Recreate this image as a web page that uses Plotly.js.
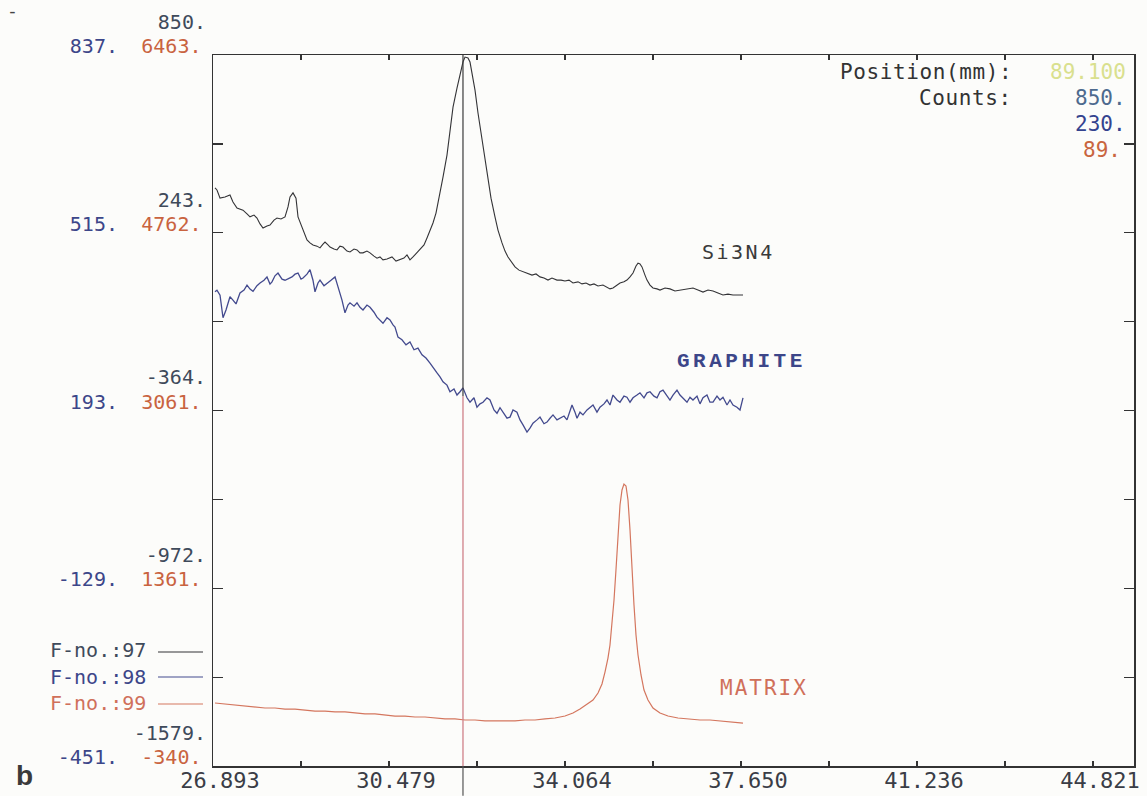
<!DOCTYPE html>
<html>
<head>
<meta charset="utf-8">
<script src="https://cdn.plot.ly/plotly-3.0.1.min.js"></script>
<style>
  html, body { margin: 0; padding: 0; background: #fcfcfa; }
  #chart { width: 1147px; height: 796px; }
</style>
</head>
<body>
<div id="chart"></div>
<script>
// ---------- data ----------
// Si3N4 (F-no. 97), counts
const xSi = [26.934, 26.974, 27.036, 27.137, 27.239, 27.300, 27.382, 27.504, 27.586, 27.647,
  27.728, 27.789, 27.851, 27.912, 27.993, 28.054, 28.136, 28.197, 28.278, 28.360,
  28.421, 28.462, 28.523, 28.584, 28.625, 28.706, 28.767, 28.808, 28.869, 28.930,
  29.012, 29.073, 29.134, 29.175, 29.236, 29.277, 29.358, 29.419, 29.480, 29.541,
  29.623, 29.684, 29.766, 29.827, 29.888, 29.949, 30.030, 30.092, 30.173, 30.234,
  30.295, 30.356, 30.438, 30.540, 30.621, 30.703, 30.784, 30.845, 30.906, 30.968,
  31.049, 31.110, 31.192, 31.253, 31.314, 31.375, 31.436, 31.477, 31.518, 31.579,
  31.660, 31.721, 31.783, 31.864, 31.925, 31.986, 32.027, 32.088, 32.129, 32.190,
  32.231, 32.292, 32.373, 32.434, 32.496, 32.557, 32.638, 32.699, 32.781, 32.842,
  32.903, 32.985, 33.046, 33.127, 33.209, 33.290, 33.392, 33.474, 33.555, 33.636,
  33.718, 33.799, 33.901, 33.983, 34.064, 34.146, 34.227, 34.329, 34.411, 34.492,
  34.574, 34.655, 34.737, 34.838, 34.920, 34.981, 35.042, 35.124, 35.185, 35.266,
  35.327, 35.389, 35.450, 35.511, 35.552, 35.592, 35.633, 35.694, 35.735, 35.796,
  35.857, 35.939, 36.000, 36.102, 36.203, 36.305, 36.407, 36.529, 36.672, 36.774,
  36.876, 36.978, 37.080, 37.181, 37.283, 37.385, 37.487, 37.589, 37.691];
const ySi = [396, 389, 361, 365, 372, 348, 327, 320, 307, 297,
  303, 293, 273, 259, 266, 269, 286, 293, 290, 297,
  331, 365, 379, 361, 297, 262, 235, 218, 208, 201,
  197, 191, 204, 211, 201, 194, 187, 184, 197, 194,
  180, 177, 187, 184, 174, 174, 180, 174, 163, 156,
  160, 150, 153, 160, 146, 150, 156, 167, 150, 160,
  174, 184, 201, 225, 249, 276, 310, 344, 372, 433,
  508, 594, 672, 737, 788, 826, 843, 840, 826, 771,
  730, 652, 560, 484, 423, 361, 297, 252, 208, 180,
  160, 139, 126, 115, 109, 105, 98, 102, 92, 88,
  81, 88, 81, 81, 78, 81, 71, 75, 68, 71,
  64, 68, 61, 64, 57, 51, 54, 64, 71, 75,
  81, 92, 105, 129, 139, 136, 126, 98, 81, 64,
  54, 51, 47, 54, 51, 44, 47, 51, 54, 47,
  40, 47, 44, 37, 30, 33, 30, 30, 30];

// GRAPHITE (F-no. 98), counts
const xGr = [26.934, 26.974, 27.036, 27.097, 27.158, 27.239, 27.300, 27.362, 27.443, 27.525,
  27.586, 27.647, 27.708, 27.789, 27.851, 27.932, 27.993, 28.054, 28.095, 28.156,
  28.217, 28.299, 28.360, 28.441, 28.502, 28.564, 28.625, 28.686, 28.727, 28.808,
  28.869, 28.930, 28.971, 29.032, 29.073, 29.154, 29.216, 29.297, 29.379, 29.440,
  29.521, 29.582, 29.643, 29.684, 29.766, 29.827, 29.888, 29.949, 30.030, 30.092,
  30.173, 30.234, 30.295, 30.356, 30.438, 30.499, 30.560, 30.601, 30.662, 30.743,
  30.825, 30.906, 30.988, 31.069, 31.151, 31.232, 31.314, 31.395, 31.457, 31.518,
  31.579, 31.660, 31.721, 31.803, 31.864, 31.925, 31.986, 32.068, 32.129, 32.210,
  32.271, 32.333, 32.394, 32.475, 32.536, 32.618, 32.679, 32.740, 32.801, 32.883,
  32.944, 33.005, 33.086, 33.148, 33.209, 33.290, 33.351, 33.412, 33.494, 33.555,
  33.636, 33.698, 33.759, 33.820, 33.901, 33.962, 34.044, 34.105, 34.166, 34.207,
  34.268, 34.309, 34.370, 34.431, 34.513, 34.574, 34.635, 34.716, 34.777, 34.859,
  34.920, 34.981, 35.042, 35.124, 35.185, 35.266, 35.327, 35.389, 35.450, 35.531,
  35.592, 35.674, 35.735, 35.796, 35.877, 35.939, 36.000, 36.061, 36.142, 36.203,
  36.265, 36.346, 36.407, 36.468, 36.550, 36.611, 36.672, 36.754, 36.815, 36.876,
  36.957, 37.018, 37.080, 37.161, 37.222, 37.283, 37.365, 37.426, 37.487, 37.568,
  37.630, 37.691];
const yGr = [408, 411, 402, 361, 375, 399, 393, 386, 406, 411,
  420, 413, 409, 419, 424, 429, 435, 422, 426, 437,
  442, 431, 429, 433, 435, 440, 442, 431, 433, 440,
  448, 429, 408, 424, 429, 419, 424, 429, 435, 417,
  393, 370, 384, 388, 382, 388, 380, 375, 384, 380,
  371, 362, 357, 351, 361, 357, 348, 344, 326, 321,
  312, 317, 303, 306, 294, 288, 279, 270, 261, 254,
  245, 239, 227, 232, 221, 227, 234, 216, 208, 216,
  199, 205, 208, 216, 212, 194, 188, 198, 190, 179,
  181, 194, 190, 176, 167, 154, 161, 170, 176, 181,
  169, 172, 179, 185, 176, 179, 183, 176, 194, 203,
  190, 179, 190, 185, 194, 198, 203, 190, 199, 205,
  212, 203, 221, 212, 208, 219, 217, 208, 216, 221,
  225, 216, 225, 227, 219, 216, 227, 230, 219, 212,
  221, 230, 221, 216, 208, 217, 212, 219, 205, 216,
  221, 208, 208, 219, 212, 217, 203, 212, 203, 199,
  194, 216];

// MATRIX (F-no. 99), counts
const xMa = [26.934, 27.137, 27.341, 27.545, 27.749, 27.952, 28.156, 28.360, 28.564, 28.767,
  28.971, 29.175, 29.379, 29.582, 29.786, 29.990, 30.193, 30.397, 30.601, 30.805,
  31.008, 31.212, 31.416, 31.620, 31.823, 32.027, 32.231, 32.434, 32.638, 32.842,
  33.046, 33.249, 33.453, 33.657, 33.861, 34.064, 34.227, 34.370, 34.513, 34.635,
  34.737, 34.818, 34.879, 34.940, 34.981, 35.022, 35.063, 35.103, 35.144, 35.185,
  35.226, 35.266, 35.307, 35.348, 35.389, 35.429, 35.470, 35.511, 35.552, 35.613,
  35.674, 35.755, 35.857, 36.000, 36.163, 36.366, 36.611, 36.815, 37.018, 37.222,
  37.426, 37.691];
const yMa = [263, 253, 244, 234, 225, 215, 215, 205, 205, 196,
  186, 186, 177, 177, 167, 158, 158, 148, 138, 138,
  129, 129, 119, 110, 110, 100, 100, 91, 91, 91,
  91, 100, 100, 110, 119, 138, 167, 205, 253, 291,
  358, 445, 559, 693, 818, 1009, 1248, 1535, 1870, 2157,
  2301, 2358, 2339, 2205, 1918, 1535, 1200, 913, 722, 531,
  387, 291, 215, 167, 138, 119, 110, 100, 100, 91,
  81, 71];

// axis tick labels
const xTickVals = [26.893, 28.686, 30.479, 32.272, 34.064, 35.857, 37.650, 39.443, 41.236, 43.029, 44.821];
const xTickText = ['26.893', '', '30.479', '', '34.064', '', '37.650', '', '41.236', '', '44.821'];
const siTickVals = [850, 243, -364, -972, -1579];
const siTickText = ['850.', '243.', '-364.', '-972.', '-1579.'];
const grTickVals = [837, 515, 193, -129, -451];
const grTickText = ['837.', '515.', '193.', '-129.', '-451.'];
const maTickVals = [6463, 5612, 4762, 3912, 3061, 2211, 1361, 510, -340];
const maTickText = ['6463.', '', '4762.', '', '3061.', '', '1361.', '', '-340.'];

// cursor readout
const cursorPos = 31.986;
const cursorLabel = '89.100';
const cursorCounts = ['850.', '230.', '89.'];
const fileNos = ['F-no.:97', 'F-no.:98', 'F-no.:99'];
const seriesNames = ['Si3N4', 'GRAPHITE', 'MATRIX'];

// ---------- styling ----------
const MONO = 'DejaVu Sans Mono';
const cSi = '#333336', cGr = '#434a8e', cMa = '#d4765e';
const cSiTxt = '#3f4a5a', cGrTxt = '#3c4689', cMaTxt = '#c9633f';

const traces = [
  {x: xSi, y: ySi, yaxis: 'y', type: 'scatter', mode: 'lines', name: seriesNames[0],
   line: {color: cSi, width: 1.1}, hoverinfo: 'skip'},
  {x: xGr, y: yGr, yaxis: 'y2', type: 'scatter', mode: 'lines', name: seriesNames[1],
   line: {color: cGr, width: 1.3}, hoverinfo: 'skip'},
  {x: xMa, y: yMa, yaxis: 'y3', type: 'scatter', mode: 'lines', name: seriesNames[2],
   line: {color: cMa, width: 1.2}, hoverinfo: 'skip'}
];

const ann = [];
function addText(text, x, y, xanchor, color, size, xref, yref, family) {
  ann.push({text: text, x: x, y: y, xref: xref || 'paper', yref: yref || 'paper',
    xanchor: xanchor, yanchor: 'middle', showarrow: false,
    font: {family: family || MONO, size: size || 21, color: color}});
}
function spaced(t, px) { return '<span style="letter-spacing:' + px + 'px">' + t + '</span>'; }
// readout box
addText(spaced('Position(mm):', 0.6), 0.8698, 0.976, 'right', '#333', 21);
addText(cursorLabel, 0.907, 0.976, 'left', '#d9e08e');
addText(spaced('Counts:', 0.6), 0.8698, 0.9395, 'right', '#333', 21);
addText(cursorCounts[0], 0.994, 0.9395, 'right', '#4d6a8e');
addText(cursorCounts[1], 0.994, 0.903, 'right', '#34438f');
addText(cursorCounts[2], 0.988, 0.8664, 'right', '#c9653f');
// series labels
addText(spaced(seriesNames[0], 2.5), 36.815, 177, 'left', '#3a3a3a', 20, 'x', 'y');
addText('<b>' + spaced(seriesNames[1], 3.5) + '</b>', 36.305, 281, 'left', cGrTxt, 21, 'x', 'y2', 'Liberation Mono');
addText(spaced(seriesNames[2], 2), 37.181, 406, 'left', '#d0705a', 21, 'x', 'y3');
// file numbers (legend)
addText(fileNos[0], -0.0705, 0.1632, 'right', cSiTxt, 20);
addText(fileNos[1], -0.0705, 0.1252, 'right', cGrTxt, 20);
addText(fileNos[2], -0.0705, 0.0886, 'right', '#d0705a', 20);
// panel letter
ann.push({text: '<b>b</b>', x: -0.216, y: -0.013, xref: 'paper', yref: 'paper',
  xanchor: 'left', yanchor: 'middle', showarrow: false,
  font: {family: 'Liberation Sans', size: 28, color: '#3a3a3a'}});
addText('-', -0.2256, 1.063, 'left', '#444', 18);

const shapes = [
  // legend line samples
  {type: 'line', xref: 'paper', yref: 'paper', x0: -0.0597, x1: -0.0108, y0: 0.1603, y1: 0.1603, line: {color: cSi, width: 1.1}},
  {type: 'line', xref: 'paper', yref: 'paper', x0: -0.0597, x1: -0.0108, y0: 0.1252, y1: 0.1252, line: {color: cGr, width: 1.1}},
  {type: 'line', xref: 'paper', yref: 'paper', x0: -0.0597, x1: -0.0108, y0: 0.0872, y1: 0.0872, line: {color: cMa, width: 1.1}},
  // cursor line
  {type: 'line', xref: 'x', yref: 'paper', x0: cursorPos, x1: cursorPos, y0: 0.52, y1: 1, line: {color: '#3a3a3a', width: 1.2}},
  {type: 'line', xref: 'x', yref: 'paper', x0: cursorPos, x1: cursorPos, y0: 0, y1: 0.52, line: {color: '#cf8088', width: 1.3}},
  {type: 'line', xref: 'x', yref: 'paper', x0: cursorPos, x1: cursorPos, y0: -0.042, y1: 0, line: {color: '#555', width: 1.2}}
];

const layout = {
  width: 1147, height: 796,
  margin: {l: 213, r: 13, t: 55, b: 30},
  paper_bgcolor: '#fcfcfa', plot_bgcolor: '#fcfcfa',
  showlegend: false,
  xaxis: {
    range: [26.893, 45.657], tickmode: 'array', tickvals: xTickVals, ticktext: xTickText,
    ticks: 'inside', ticklen: 5, tickwidth: 1.2, tickcolor: '#333',
    showline: true, linecolor: '#333', linewidth: 1.5, mirror: 'ticks',
    showgrid: false, zeroline: false, ticklabelshift: 7, ticklabelstandoff: -6,
    tickfont: {family: MONO, size: 22, color: '#3a3d46'}
  },
  yaxis: {
    range: [-1579, 850], tickmode: 'array', tickvals: siTickVals, ticktext: siTickText,
    ticks: '', showline: false, showgrid: false, zeroline: false,
    ticklabelshift: -33, ticklabelstandoff: 6,
    tickfont: {family: MONO, size: 20, color: cSiTxt}
  },
  yaxis2: {
    overlaying: 'y', side: 'left', anchor: 'x',
    range: [-451, 837], tickmode: 'array', tickvals: grTickVals, ticktext: grTickText,
    ticks: '', showline: false, showgrid: false, zeroline: false,
    ticklabelshift: -9, ticklabelstandoff: 94,
    tickfont: {family: MONO, size: 20, color: cGrTxt}
  },
  yaxis3: {
    overlaying: 'y', side: 'left', anchor: 'x',
    range: [-340, 6463], tickmode: 'array', tickvals: maTickVals, ticktext: maTickText,
    ticks: 'inside', ticklen: 10, tickwidth: 1.2, tickcolor: '#333',
    showline: true, linecolor: '#333', linewidth: 1.5, mirror: 'ticks',
    showgrid: false, zeroline: false,
    ticklabelshift: -9, ticklabelstandoff: 6,
    tickfont: {family: MONO, size: 20, color: cMaTxt}
  },
  annotations: ann,
  shapes: shapes
};

Plotly.newPlot('chart', traces, layout, {displayModeBar: false, staticPlot: true});
</script>
</body>
</html>
